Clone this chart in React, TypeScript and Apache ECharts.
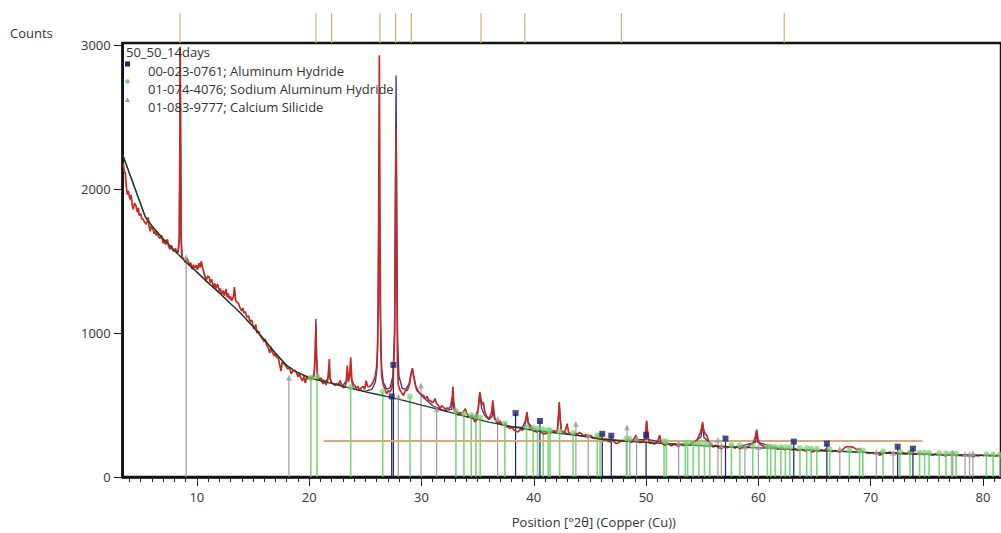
import React, { useEffect, useRef } from "react";
import * as echarts from "echarts";

const FONT = "'Open Sans', 'Noto Sans', sans-serif";
const X_MIN = 3.4;
const X_MAX = 81.6;
const Y_MAX = 3016;

const xLabelValues = [10, 20, 30, 40, 50, 60, 70, 80];
const yLabelValues = [0, 1000, 2000, 3000];
const xMinorTicks = [4,5,6,7,8,9,10,11,12,13,14,15,16,17,18,19,20,21,22,23,24,25,26,27,28,29,30,31,32,33,34,35,36,37,38,39,40,41,42,43,44,45,46,47,48,49,50,51,52,53,54,55,56,57,58,59,60,61,62,63,64,65,66,67,68,69,70,71,72,73,74,75,76,77,78,79,80,81];

const sampleName = "50_50_14days";
const phaseNames = [
  "00-023-0761; Aluminum Hydride",
  "01-074-4076; Sodium Aluminum Hydride",
  "01-083-9777; Calcium Silicide",
];

// observed scan (2θ, counts)
const observed: number[][] = [
[3.45,2180],[3.55,2120],[3.63,2115],[3.7,2040],[3.8,1963],[3.9,1990],[4.0,1945],[4.07,1929],[4.15,1960],[4.25,1885],[4.34,1860],[4.45,1905],[4.6,1880],[4.7,1840],[4.8,1870],[4.87,1818],[5.0,1830],[5.1,1795],[5.23,1790],[5.35,1770],[5.5,1756],[5.6,1785],[5.67,1804],[5.75,1740],[5.85,1707],[5.95,1745],[6.1,1721],[6.2,1690],[6.3,1710],[6.38,1679],[6.5,1700],[6.6,1668],[6.74,1659],[6.85,1680],[7.0,1624],[7.1,1645],[7.2,1615],[7.37,1652],[7.5,1600],[7.63,1582],[7.75,1610],[7.85,1575],[7.99,1569],[8.1,1590],[8.2,1555],[8.3,1565],[8.38,1600],[8.44,1680],[8.48,2200],[8.52,2990],[8.56,2300],[8.6,1700],[8.65,1540],[8.75,1520],[8.85,1510],[8.97,1492],[9.1,1520],[9.23,1499],[9.35,1470],[9.45,1490],[9.59,1444],[9.7,1475],[9.8,1450],[9.95,1472],[10.05,1440],[10.2,1485],[10.3,1455],[10.4,1500],[10.5,1458],[10.6,1430],[10.7,1400],[10.83,1361],[10.95,1395],[11.1,1389],[11.2,1350],[11.3,1375],[11.5,1319],[11.6,1345],[11.7,1310],[11.85,1340],[12.0,1290],[12.1,1310],[12.2,1271],[12.35,1295],[12.45,1260],[12.6,1305],[12.7,1250],[12.8,1275],[12.9,1236],[13.0,1255],[13.1,1225],[13.25,1250],[13.35,1320],[13.45,1230],[13.55,1215],[13.7,1208],[13.85,1175],[14.0,1153],[14.1,1175],[14.2,1140],[14.3,1150],[14.4,1125],[14.5,1110],[14.6,1120],[14.75,1077],[14.9,1090],[15.0,1050],[15.1,1028],[15.25,1060],[15.35,1000],[15.5,1015],[15.6,990],[15.7,975],[15.85,959],[16.0,940],[16.1,960],[16.2,917],[16.35,900],[16.5,862],[16.6,905],[16.7,870],[16.8,855],[16.9,841],[17.0,860],[17.1,830],[17.24,834],[17.35,790],[17.5,737],[17.6,800],[17.7,790],[17.8,786],[17.95,770],[18.1,751],[18.25,760],[18.4,717],[18.55,740],[18.75,738],[18.9,720],[19.0,696],[19.15,715],[19.25,690],[19.4,668],[19.55,700],[19.65,654],[19.8,696],[19.9,682],[20.0,690],[20.15,675],[20.3,690],[20.45,720],[20.55,900],[20.6,1060],[20.66,820],[20.75,700],[20.85,680],[20.95,670],[21.05,690],[21.2,647],[21.35,660],[21.5,640],[21.65,670],[21.75,760],[21.8,820],[21.85,700],[21.95,660],[22.1,650],[22.3,636],[22.45,650],[22.6,640],[22.76,670],[22.9,635],[23.05,620],[23.2,627],[23.3,660],[23.4,774],[23.5,660],[23.6,700],[23.7,832],[23.8,680],[23.95,640],[24.07,636],[24.2,615],[24.35,630],[24.5,601],[24.65,620],[24.8,630],[24.95,610],[25.07,670],[25.2,630],[25.4,627],[25.55,640],[25.7,660],[25.87,696],[26.0,760],[26.1,900],[26.18,1600],[26.25,2930],[26.31,1700],[26.38,900],[26.46,700],[26.6,640],[26.75,610],[26.9,578],[27.05,600],[27.2,590],[27.35,613],[27.5,700],[27.62,1000],[27.7,2000],[27.74,2420],[27.8,1500],[27.86,800],[27.94,640],[28.05,610],[28.2,590],[28.4,566],[28.55,600],[28.7,600],[28.8,613],[28.95,650],[29.1,730],[29.2,756],[29.3,700],[29.45,640],[29.6,601],[29.75,590],[29.9,580],[30.05,570],[30.2,566],[30.35,545],[30.5,560],[30.65,530],[30.8,532],[30.95,515],[31.1,525],[31.2,545],[31.35,509],[31.5,500],[31.65,474],[31.8,495],[31.95,486],[32.1,470],[32.25,480],[32.4,474],[32.6,490],[32.75,560],[32.8,627],[32.87,520],[33.0,460],[33.15,445],[33.3,428],[33.45,450],[33.6,440],[33.75,455],[33.9,474],[34.05,440],[34.2,425],[34.33,417],[34.5,430],[34.65,400],[34.8,382],[34.95,420],[35.05,470],[35.15,560],[35.2,590],[35.3,540],[35.4,500],[35.5,521],[35.65,450],[35.8,425],[35.95,405],[36.1,420],[36.25,450],[36.35,532],[36.45,460],[36.55,400],[36.7,382],[36.85,375],[37.0,390],[37.15,365],[37.3,359],[37.45,372],[37.6,350],[37.75,345],[37.9,336],[38.05,350],[38.2,330],[38.4,320],[38.6,313],[38.8,330],[39.0,325],[39.2,350],[39.33,420],[39.4,452],[39.48,380],[39.65,348],[39.8,330],[40.0,320],[40.25,313],[40.45,325],[40.65,310],[40.85,300],[41.1,301],[41.3,315],[41.5,305],[41.7,324],[41.9,310],[42.1,320],[42.2,420],[42.27,521],[42.35,400],[42.45,320],[42.6,313],[42.8,320],[42.97,370],[43.1,310],[43.3,300],[43.5,290],[43.7,305],[43.9,295],[44.05,310],[44.25,301],[44.45,285],[44.65,295],[44.85,278],[45.05,290],[45.25,275],[45.45,267],[45.65,280],[45.85,262],[46.0,270],[46.2,255],[46.4,262],[46.6,250],[46.8,244],[47.0,258],[47.2,240],[47.4,232],[47.65,244],[47.9,255],[48.1,248],[48.3,258],[48.5,255],[48.7,240],[48.9,262],[49.1,290],[49.3,250],[49.45,238],[49.6,244],[49.8,250],[49.95,300],[50.05,393],[50.15,290],[50.33,232],[50.5,240],[50.7,228],[50.9,236],[51.05,250],[51.2,290],[51.35,240],[51.5,228],[51.67,220],[51.9,232],[52.1,224],[52.3,216],[52.5,228],[52.7,220],[52.9,212],[53.1,226],[53.35,218],[53.6,232],[53.85,222],[54.05,238],[54.3,244],[54.55,260],[54.8,301],[54.95,340],[55.03,382],[55.12,330],[55.25,300],[55.4,290],[55.6,240],[55.8,215],[56.0,209],[56.2,222],[56.45,205],[56.7,197],[56.95,212],[57.2,204],[57.45,209],[57.7,215],[57.9,200],[58.1,212],[58.35,197],[58.6,206],[58.8,214],[59.0,205],[59.2,220],[59.5,230],[59.7,270],[59.85,329],[59.95,270],[60.1,230],[60.3,220],[60.5,212],[60.75,206],[61.0,209],[61.2,198],[61.45,205],[61.7,195],[61.9,197],[62.1,204],[62.35,190],[62.6,198],[62.8,193],[63.0,188],[63.25,198],[63.5,184],[63.7,186],[63.95,192],[64.2,180],[64.4,188],[64.6,186],[64.86,174],[65.1,184],[65.35,178],[65.6,190],[65.85,182],[66.05,197],[66.3,186],[66.55,176],[66.8,184],[67.0,178],[67.24,174],[67.5,190],[67.7,205],[67.9,212],[68.1,209],[68.3,210],[68.5,204],[68.75,190],[69.0,197],[69.2,180],[69.45,172],[69.7,168],[69.9,163],[70.15,170],[70.4,160],[70.6,166],[70.8,151],[71.05,162],[71.3,170],[71.5,166],[71.7,174],[71.95,165],[72.2,170],[72.4,160],[72.6,163],[72.85,170],[73.1,162],[73.3,168],[73.5,174],[73.75,165],[74.0,158],[74.2,166],[74.4,163],[74.7,156],[74.95,162],[75.2,158],[75.5,151],[75.75,160],[76.0,154],[76.25,158],[76.5,150],[76.7,147],[76.95,156],[77.2,152],[77.45,158],[77.7,150],[77.9,151],[78.15,146],[78.4,155],[78.65,148],[78.9,152],[79.1,140],[79.35,150],[79.6,146],[79.85,153],[80.05,148],[80.3,156],[80.55,147],[80.8,152],[81.05,145],[81.3,150],[81.5,147],[81.8,150],[82.1,146]
];

// calculated profile
const calculated: number[][] = [
[3.4,2240],[5.4,1810],[6,1745],[7,1655],[8,1575],[8.35,1560],[8.44,1650],[8.48,2300],[8.52,2950],[8.56,2300],[8.6,1650],[8.7,1530],[9,1495],[10,1425],[11,1350],[12,1280],[13,1205],[14,1130],[15,1045],[16,955],[17,860],[18,775],[19,725],[20,690],[20.45,700],[20.54,850],[20.6,1100],[20.66,850],[20.75,690],[21.5,665],[21.75,700],[21.8,760],[21.85,690],[22,650],[23,635],[23.4,680],[23.7,720],[23.85,640],[24,612],[25,595],[25.6,610],[25.9,660],[26.05,760],[26.15,1200],[26.23,2350],[26.31,1200],[26.45,760],[26.6,660],[26.9,610],[27.2,620],[27.45,700],[27.6,1000],[27.68,2000],[27.74,2790],[27.8,1900],[27.88,950],[28.0,700],[28.3,615],[28.6,610],[28.9,650],[29.1,720],[29.2,745],[29.32,700],[29.5,630],[29.8,585],[30.2,550],[31,495],[32,462],[32.7,470],[32.8,560],[32.9,470],[33.5,432],[34,420],[34.8,420],[35.05,470],[35.2,575],[35.35,480],[35.6,430],[36,400],[36.3,420],[36.38,500],[36.48,410],[37,368],[38,350],[39,345],[39.3,400],[39.4,440],[39.5,380],[40,328],[41,315],[42.1,320],[42.27,500],[42.45,320],[43,300],[44,290],[46,264],[48,252],[49.95,262],[50.05,380],[50.15,262],[52,232],[54,225],[54.9,280],[55.03,370],[55.15,275],[56,216],[58,208],[59.75,240],[59.85,320],[59.95,240],[62,196],[64,188],[66,182],[68,176],[70,170],[72,165],[74,160],[76,156],[78,153],[80,150],[82,148]
];

// background
const background: number[][] = [
[3.4,2240],[5.4,1810],[6,1745],[7,1655],[8,1575],[9,1495],[10,1425],[11,1350],[12,1280],[13,1205],[14,1130],[15,1045],[16,955],[17,860],[18,775],[19,725],[20,690],[21,668],[22,650],[23,630],[24,610],[25,592],[26,575],[27,558],[28,540],[29,520],[30,500],[31,480],[32,460],[33,440],[34,420],[35,400],[36,382],[37,365],[38,350],[39,337],[40,325],[42,305],[44,288],[46,264],[48,250],[50,240],[52,230],[54,222],[56,214],[58,208],[60,203],[62,196],[64,188],[66,182],[68,176],[70,170],[72,165],[74,160],[76,156],[78,153],[80,150],[82,148]
];

// reference sticks: positions and heights
const alHydridePos = [27.35, 27.5, 38.38, 40.55, 46.1, 46.9, 50.0, 57.07, 63.15, 66.1, 72.4, 73.76];
const alHydrideHt = [560, 779, 444, 389, 300, 287, 294, 267, 246, 232, 211, 197];

const naAlHydridePos = [20.15, 20.7, 23.7, 26.55, 28.98, 33.07, 33.78, 34.43, 34.85, 35.23, 37.43, 39.36, 39.95, 40.34, 40.84, 41.29, 41.45, 42.3, 43.5, 45.65, 45.9, 48.25, 48.55, 51.6, 51.8, 53.5, 53.7, 54.2, 54.7, 55.2, 55.67, 57.6, 58.35, 59.5, 60.8, 61.1, 61.5, 62.0, 62.4, 62.8, 63.7, 64.3, 64.7, 65.2, 66.35, 68.1, 69.0, 69.3, 71.1, 72.6, 73.5, 74.35, 74.8, 75.2, 76.1, 76.7, 77.2, 77.6, 80.3, 80.9, 81.5];
const naAlHydrideHt = [690, 700, 625, 595, 560, 458, 440, 430, 420, 412, 372, 350, 342, 337, 332, 326, 324, 318, 306, 290, 288, 268, 265, 248, 246, 238, 237, 234, 232, 230, 228, 222, 220, 215, 212, 211, 210, 208, 207, 206, 202, 200, 198, 196, 192, 186, 184, 183, 178, 174, 172, 170, 169, 168, 166, 164, 163, 163, 158, 157, 156];

const caSilicidePos = [9.05, 18.2, 27.94, 29.96, 31.35, 36.78, 43.75, 44.85, 48.3, 49.15, 52.9, 56.4, 56.7, 58.8, 60.0, 67.25, 70.5, 72.0, 77.3, 78.4, 78.8, 79.1];
const caSilicideHt = [1527, 690, 560, 636, 470, 405, 370, 290, 345, 270, 235, 258, 220, 212, 208, 196, 176, 168, 170, 160, 158, 165];

// peak list markers (top strip)
const peakListPos = [8.5, 20.6, 22.0, 26.3, 27.7, 29.1, 35.3, 39.2, 47.8, 62.3];

// horizontal marker
const hMarker: number[][] = [[21.3, 250], [74.6, 250]];

const pairs = (p: number[], h: number[]) => p.map((v, i) => [v, h[i]]);

function stickSeries(name: string, data: number[][], color: string, width: number, xi: number, yi: number, z: number) {
  return {
    type: "custom",
    name,
    xAxisIndex: xi,
    yAxisIndex: yi,
    clip: true,
    silent: true,
    z,
    data,
    encode: { x: 0, y: 1 },
    renderItem: (_p: any, api: any) => {
      const x = api.value(0);
      const h = api.value(1);
      const p0 = api.coord([x, 0]);
      const p1 = api.coord([x, h]);
      return {
        type: "line",
        shape: { x1: p0[0], y1: p0[1], x2: p1[0], y2: p1[1] },
        style: { stroke: color, lineWidth: width },
      };
    },
  };
}

const NAVY = "#1b2070";
const GREEN = "rgba(105,205,105,0.85)";
const GRAY = "#9c9c9c";
const TAN = "#d2ae76";
const TEXT = "#333";

export default function App() {
  const ref = useRef<HTMLDivElement>(null);
  useEffect(() => {
    document.body.style.margin = "0";
    const chart = echarts.init(ref.current!, null, { renderer: "svg" });
    const gridLeft = 122.7;
    const gridRight = 0;
    const option: any = {
      animation: false,
      backgroundColor: "#fff",
      textStyle: { fontFamily: FONT },
      grid: [
        { left: gridLeft, right: gridRight, top: 43, bottom: 54.5, show: true, borderColor: "#111", borderWidth: 2.5, backgroundColor: "transparent" },
        { left: gridLeft, right: gridRight, top: 13, height: 30, show: false },
      ],
      xAxis: [
        {
          type: "value", gridIndex: 0, min: X_MIN, max: X_MAX,
          name: "Position [°2θ] (Copper (Cu))", nameLocation: "middle", nameGap: 38,
          nameTextStyle: { fontSize: 13, color: TEXT, fontFamily: FONT, padding: [0, 0, 0, 64] },
          axisLine: { show: true, onZero: false, lineStyle: { color: "#111", width: 2.5 } },
          axisTick: { show: true, inside: false, length: 5, customValues: xMinorTicks, lineStyle: { color: "#222", width: 1 } },
          axisLabel: { show: true, customValues: xLabelValues, margin: 13, fontSize: 13, color: TEXT, fontFamily: FONT, formatter: (v: number) => String(v) },
          splitLine: { show: false },
        },
        {
          type: "value", gridIndex: 0, min: X_MIN, max: X_MAX, position: "bottom",
          axisLine: { show: false },
          axisTick: { show: true, inside: false, length: 9, customValues: xLabelValues, lineStyle: { color: "#222", width: 1 } },
          axisLabel: { show: false },
          splitLine: { show: false },
        },
        {
          type: "value", gridIndex: 1, min: X_MIN, max: X_MAX, show: false,
        },
      ],
      yAxis: [
        {
          type: "value", gridIndex: 0, min: 0, max: Y_MAX,
          axisLine: { show: true, lineStyle: { color: "#111", width: 2.5 } },
          axisTick: { show: true, inside: false, length: 9, customValues: yLabelValues, lineStyle: { color: "#222", width: 1 } },
          axisLabel: { show: true, customValues: yLabelValues, margin: 12, fontSize: 13, color: TEXT, fontFamily: FONT, formatter: (v: number) => String(v) },
          splitLine: { show: false },
        },
        { type: "value", gridIndex: 1, min: 0, max: 1, show: false },
      ],
      series: [
        stickSeries("Sodium Aluminum Hydride sticks", pairs(naAlHydridePos, naAlHydrideHt), GREEN, 1.6, 0, 0, 1),
        stickSeries("Calcium Silicide sticks", pairs(caSilicidePos, caSilicideHt), GRAY, 1.2, 0, 0, 1),
        stickSeries("Aluminum Hydride sticks", pairs(alHydridePos, alHydrideHt), NAVY, 1.2, 0, 0, 1),
        {
          type: "line", name: "marker", data: hMarker, xAxisIndex: 0, yAxisIndex: 0, showSymbol: false, silent: true, z: 2,
          lineStyle: { color: TAN, width: 2 },
        },
        {
          type: "line", name: "calculated", data: calculated, xAxisIndex: 0, yAxisIndex: 0, showSymbol: false, silent: true, z: 3,
          lineStyle: { color: "#3a2f90", width: 1.3 },
        },
        {
          type: "line", name: sampleName, data: observed, xAxisIndex: 0, yAxisIndex: 0, showSymbol: false, silent: true, z: 4,
          lineStyle: { color: "#c42a22", width: 1.7 },
        },
        {
          type: "line", name: "background", data: background, xAxisIndex: 0, yAxisIndex: 0, showSymbol: false, silent: true, z: 5,
          lineStyle: { color: "#1f3f1c", width: 1.3 },
        },
        {
          type: "scatter", name: phaseNames[1], data: pairs(naAlHydridePos, naAlHydrideHt), symbol: "circle", symbolSize: 6, z: 6, silent: true,
          itemStyle: { color: "rgba(120,210,120,0.9)" },
        },
        {
          type: "scatter", name: phaseNames[2], data: pairs(caSilicidePos, caSilicideHt), symbol: "triangle", symbolSize: 6, z: 6, silent: true,
          itemStyle: { color: "#a0a0a0" },
        },
        {
          type: "scatter", name: phaseNames[0], data: pairs(alHydridePos, alHydrideHt), symbol: "rect", symbolSize: 6, z: 7, silent: true,
          itemStyle: { color: NAVY },
        },
        stickSeries("Peak list", peakListPos.map((p) => [p, 1]), TAN, 1.2, 2, 1, 2),
      ],
      graphic: [
        { type: "text", left: 10, top: 26, style: { text: "Counts", fontSize: 13, fill: TEXT, fontFamily: FONT } },
        { type: "text", x: 126, y: 52, style: { text: sampleName, fontSize: 13, fill: TEXT, fontFamily: FONT, verticalAlign: "middle", align: "left" }, z: 100 },
        { type: "rect", shape: { x: 125, y: 61.5, width: 5, height: 5 }, style: { fill: NAVY }, z: 100 },
        { type: "text", x: 148, y: 70.5, style: { text: phaseNames[0], fontSize: 13, fill: TEXT, fontFamily: FONT, verticalAlign: "middle", align: "left" }, z: 100 },
        { type: "circle", shape: { cx: 127.5, cy: 81.5, r: 2.2 }, style: { fill: "#7ccf7c" }, z: 100 },
        { type: "text", x: 148, y: 88.5, style: { text: phaseNames[1], fontSize: 13, fill: TEXT, fontFamily: FONT, verticalAlign: "middle", align: "left" }, z: 100 },
        { type: "polygon", shape: { points: [[127.5, 97.5], [125, 102], [130, 102]] }, style: { fill: "#999" }, z: 100 },
        { type: "text", x: 148, y: 106.5, style: { text: phaseNames[2], fontSize: 13, fill: TEXT, fontFamily: FONT, verticalAlign: "middle", align: "left" }, z: 100 },
      ],
    };
    chart.setOption(option);
    return () => chart.dispose();
  }, []);
  return <div ref={ref} style={{ width: 1001, height: 533 }} />;
}
